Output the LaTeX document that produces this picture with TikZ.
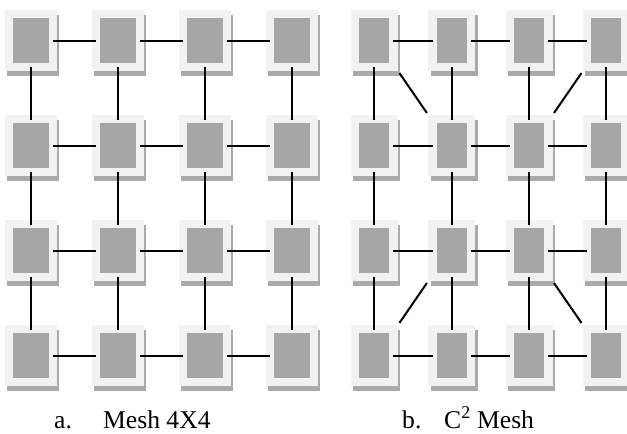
\documentclass[tikz,border=0pt]{standalone}
\usepackage{fontspec}
\setmainfont{Liberation Serif}
\definecolor{tilebg}{HTML}{F2F2F2}
\definecolor{tilein}{HTML}{A6A6A6}
\definecolor{tileshadow}{HTML}{AAAAAA}
\begin{document}
\begin{tikzpicture}[x=1pt,y=-1pt,
  box/.style={rectangle,inner sep=0pt,outer sep=0pt,draw=none},
  outerL/.style={box,fill=tilebg,minimum width=52pt,minimum height=61pt},
  shadowL/.style={box,fill=tileshadow,minimum width=52pt,minimum height=61pt},
  innerL/.style={box,fill=tilein,minimum width=36pt,minimum height=45pt},
  outerR/.style={box,fill=tilebg,minimum width=47pt,minimum height=61pt},
  shadowR/.style={box,fill=tileshadow,minimum width=47pt,minimum height=61pt},
  innerR/.style={box,fill=tilein,minimum width=30pt,minimum height=45pt},
  conn/.style={line width=2pt,black},
  hconn/.style={conn,shorten <=4pt,shorten >=4pt},
  vconn/.style={conn,shorten <=3.5pt,shorten >=3.5pt},
  dconn/.style={conn,shorten <=2.5pt,shorten >=2.5pt},
  captext/.style={anchor=base west,inner sep=0pt,font=\fontsize{25.6}{30}\selectfont}
]
\useasboundingbox (0,0) rectangle (627,434);
% tiles
\foreach \j in {1,...,4}{
  \foreach \i in {1,...,4}{
    \node[shadowL] (sL\j\i) at ({31+87*(\i-1)+2.3},{40.5+105*(\j-1)+5}) {};
    \node[outerL] (L\j\i) at ({31+87*(\i-1)},{40.5+105*(\j-1)}) {};
    \node[innerL] (l\j\i) at ({31+87*(\i-1)},{40.5+105*(\j-1)}) {};
    \node[shadowR] (sR\j\i) at ({374.5+77.3*(\i-1)+2.3},{40.5+105*(\j-1)+5}) {};
    \node[outerR] (R\j\i) at ({374.5+77.3*(\i-1)},{40.5+105*(\j-1)}) {};
    \node[innerR] (r\j\i) at ({374.3+77.3*(\i-1)},{40.5+105*(\j-1)}) {};
  }
}
% mesh connectors
\foreach \j in {1,...,4}{
  \foreach \i/\ii in {1/2,2/3,3/4}{
    \draw[hconn] (l\j\i) -- (l\j\ii);
    \draw[hconn] (r\j\i) -- (r\j\ii);
    \draw[vconn] (l\i\j) -- (l\ii\j);
    \draw[vconn] (r\i\j) -- (r\ii\j);
  }
}
% C2 diagonals
\draw[dconn] (R11.south east) -- (R22.north west);
\draw[dconn] (R14.south west) -- (R23.north east);
\draw[dconn] (R32.south west) -- (R41.north east);
\draw[dconn] (R33.south east) -- (R44.north west);
% captions
\node[captext] (ca) at (54,428) {a.};
\node[captext] (cma) at (103,428) {Mesh 4X4};
\node[captext] (cb) at (402,428) {b.};
\node[captext] (cmb) at (444,428) {C\textsuperscript{2} Mesh};
\end{tikzpicture}
\end{document}
